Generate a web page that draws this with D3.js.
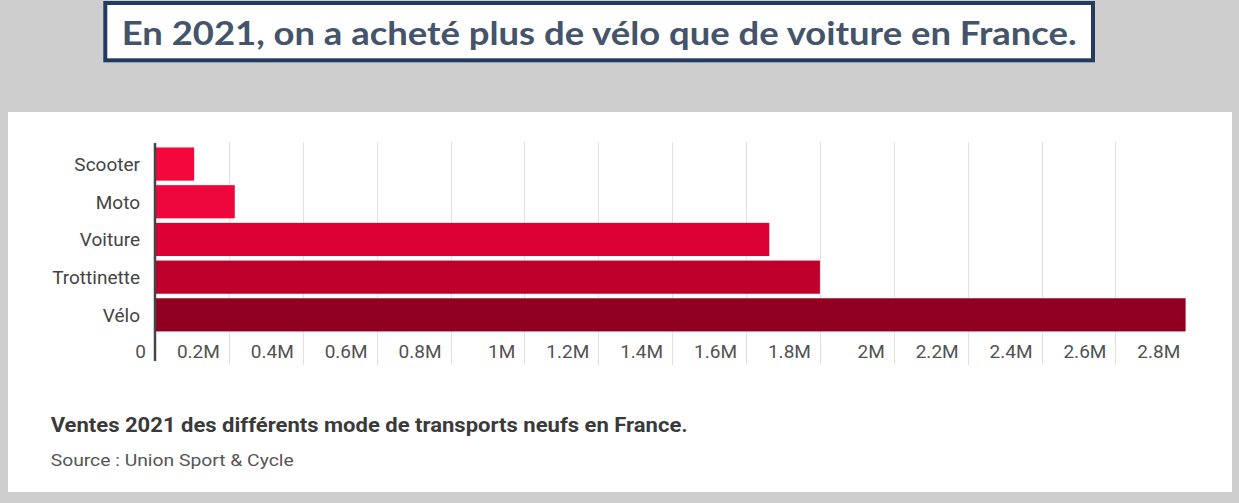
<!DOCTYPE html>
<html>
<head>
<meta charset="utf-8">
<script src="https://cdn.jsdelivr.net/npm/d3@7"></script>
<style>
  html, body { margin: 0; padding: 0; background: #cfcecf; }
  svg { display: block; }
</style>
</head>
<body>
<svg id="chart" width="1239" height="503"></svg>
<script>
const categories = ["Scooter", "Moto", "Voiture", "Trottinette", "Vélo"];
const values = [106000, 216000, 1663000, 1800000, 2790000];
const barColors = ["#f4083c", "#ee073c", "#dc0034", "#bf002c", "#910020"];
const tickValues = [0, 200000, 400000, 600000, 800000, 1000000, 1200000, 1400000, 1600000, 1800000, 2000000, 2200000, 2400000, 2600000, 2800000];
const tickLabels = ["0", "0.2M", "0.4M", "0.6M", "0.8M", "1M", "1.2M", "1.4M", "1.6M", "1.8M", "2M", "2.2M", "2.4M", "2.6M", "2.8M"];
const headline = "En 2021, on a acheté plus de vélo que de voiture en France.";
const caption = "Ventes 2021 des différents mode de transports neufs en France.";
const source = "Source : Union Sport & Cycle";

const svg = d3.select("#chart");

// background
svg.append("rect").attr("x", 0).attr("y", 0).attr("width", 1239).attr("height", 503).attr("fill", "#cfcecf");

// headline box
svg.append("rect")
  .attr("x", 105.3).attr("y", 3).attr("width", 987.7).attr("height", 57.3)
  .attr("fill", "#ffffff").attr("stroke", "#243b61").attr("stroke-width", 4);
svg.append("text")
  .attr("x", 121.7).attr("y", 45)
  .attr("font-family", "Lato, 'Open Sans', sans-serif")
  .attr("font-weight", 700).attr("font-size", 33)
  .attr("fill", "#44546a")
  .attr("textLength", 955).attr("lengthAdjust", "spacingAndGlyphs")
  .text(headline);

// white panel
svg.append("rect").attr("x", 8).attr("y", 112).attr("width", 1224).attr("height", 380).attr("fill", "#ffffff");

const x = d3.scaleLinear().domain([0, 2800000]).range([155, 1189.3]);
const y = d3.scaleBand().domain(categories).range([145.2, 333.7]).paddingInner(0.12).paddingOuter(0.06);

// gridlines
svg.append("g").selectAll("line")
  .data(tickValues.filter(v => v > 0 && v < 2800000))
  .join("line")
  .attr("x1", d => Math.round(x(d)) + 0.5).attr("x2", d => Math.round(x(d)) + 0.5)
  .attr("y1", 142).attr("y2", 365)
  .attr("stroke", "#e0e0e0").attr("stroke-width", 1);

// bars
svg.append("g").selectAll("rect")
  .data(categories)
  .join("rect")
  .attr("x", x(0))
  .attr("y", d => y(d))
  .attr("width", (d, i) => x(values[i]) - x(0))
  .attr("height", y.bandwidth())
  .attr("fill", (d, i) => barColors[i]);

// baseline axis
svg.append("line")
  .attr("x1", 155).attr("x2", 155).attr("y1", 143).attr("y2", 361)
  .attr("stroke", "#444444").attr("stroke-width", 2.5);

// category labels
svg.append("g").selectAll("text")
  .data(categories)
  .join("text")
  .attr("x", 140)
  .attr("y", d => y(d) + y.bandwidth() / 2)
  .attr("dy", "0.36em")
  .attr("text-anchor", "end")
  .attr("font-family", "Roboto, sans-serif")
  .attr("font-size", 19)
  .attr("fill", "#444444")
  .text(d => d);

// tick labels
svg.append("g").selectAll("text")
  .data(tickValues)
  .join("text")
  .attr("x", d => x(d) - 9)
  .attr("y", 358)
  .attr("text-anchor", "end")
  .attr("font-family", "Roboto, sans-serif")
  .attr("font-size", 19)
  .attr("fill", "#525252")
  .text((d, i) => tickLabels[i]);

// caption
svg.append("text")
  .attr("x", 50.7).attr("y", 431.7)
  .attr("font-family", "Roboto, sans-serif")
  .attr("font-weight", 700).attr("font-size", 21)
  .attr("fill", "#3a3a3a")
  .attr("textLength", 637).attr("lengthAdjust", "spacingAndGlyphs")
  .text(caption);

svg.append("text")
  .attr("x", 50.7).attr("y", 465.5)
  .attr("font-family", "Roboto, sans-serif")
  .attr("font-size", 16)
  .attr("fill", "#555555")
  .attr("textLength", 243).attr("lengthAdjust", "spacingAndGlyphs")
  .text(source);
</script>
</body>
</html>
